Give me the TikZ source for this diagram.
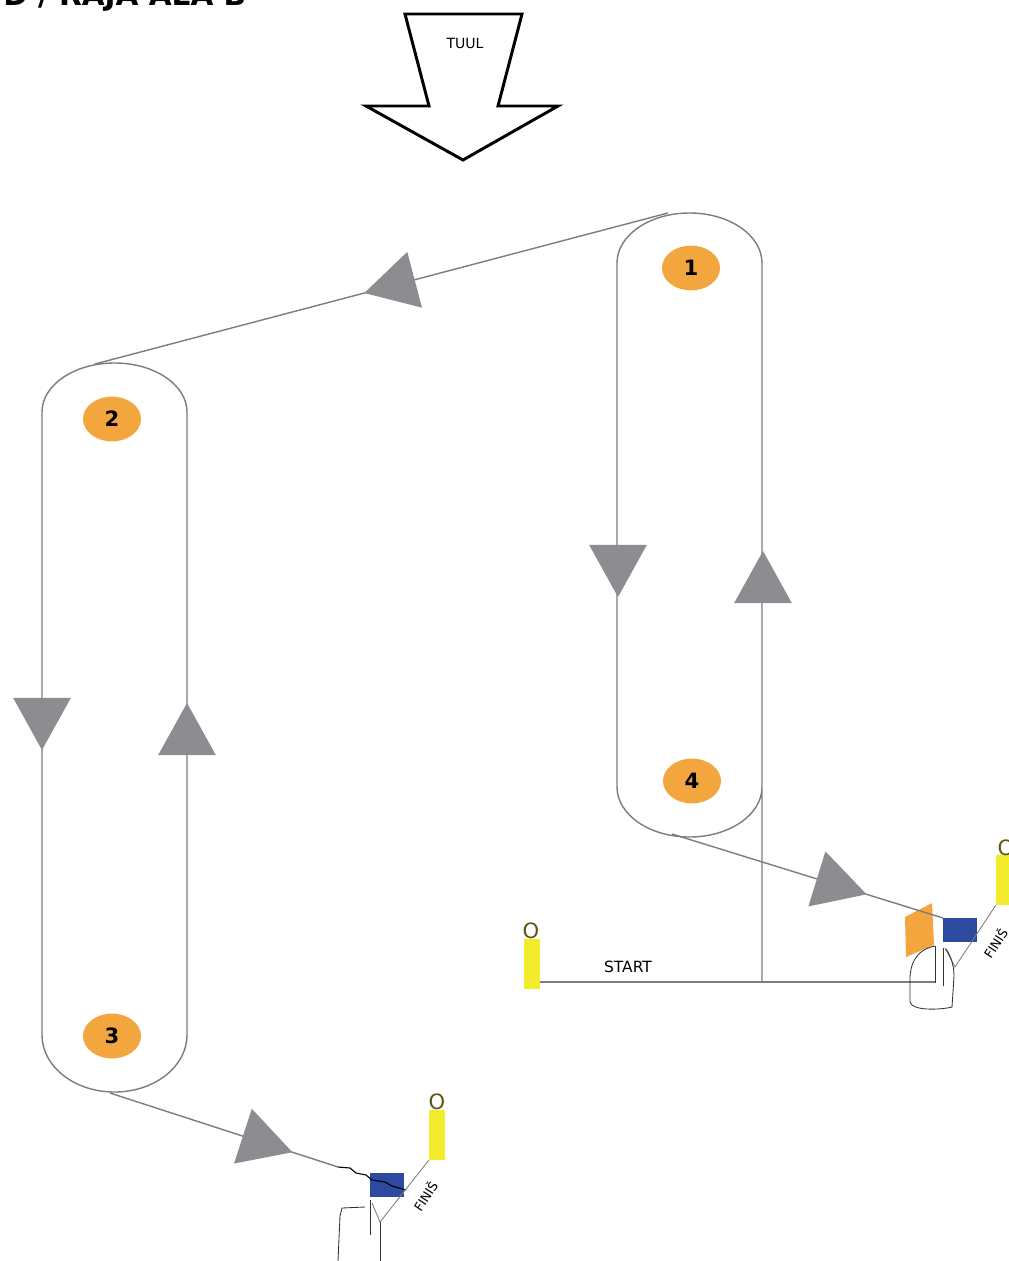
\documentclass[tikz,border=0pt]{standalone}
\usepackage{fontspec}
\setmainfont{DejaVu Sans}
\usetikzlibrary{calc,shapes.geometric}
\definecolor{linegray}{RGB}{125,125,125}
\definecolor{tipgray}{RGB}{140,140,145}
\definecolor{buoyorange}{RGB}{244,166,62}
\definecolor{boatblue}{RGB}{43,74,160}
\definecolor{pinyellow}{RGB}{242,236,44}
\definecolor{pintext}{RGB}{95,85,15}
\tikzset{
  course/.style={draw=linegray,line width=1pt},
  finline/.style={draw=linegray,line width=0.6pt},
  sketch/.style={draw=black!80,line width=0.6pt},
  flowtip/.style={fill=tipgray},
  buoy/.style={ellipse,fill=buoyorange,minimum width=1.45cm,minimum height=1.12cm,inner sep=0pt,font=\bfseries\fontsize{15}{15}\selectfont},
  pin/.style={fill=pinyellow,minimum width=0.4cm,minimum height=1.25cm,inner sep=0pt},
  pinlabel/.style={text=pintext,font=\fontsize{15}{15}\selectfont,inner sep=0pt},
  boat/.style={fill=boatblue,minimum width=0.85cm,minimum height=0.6cm,inner sep=0pt},
  label/.style={font=\fontsize{11}{11}\selectfont,inner sep=0pt}
}
% gray triangle on a leg: #1 point behind, #2 tip
\newcommand\flowarrow[2]{%
  \coordinate (bc) at ($(#2)!1.3cm!(#1)$);
  \fill[flowtip] ($(bc)!0.72cm!90:(#2)$) -- (#2) -- ($(bc)!0.72cm!-90:(#2)$) -- cycle;}

\begin{document}
\begin{tikzpicture}[x=0.025cm,y=-0.025cm]
\useasboundingbox[fill=white] (0,0) rectangle (1008,1261);
\node[anchor=base west,font=\bfseries\fontsize{21}{21}\selectfont,inner sep=0pt] (title) at (3,6) {D / RAJA ALA B};
% wind
\draw[line width=2.1pt,line join=miter] (405,14) -- (522,14) -- (498,106) -- (558,106) -- (463,160) -- (366,106) -- (429,106) -- cycle;
\node[label,font=\fontsize{10}{10}\selectfont] (wind) at (465,43) {TUUL};
% loops
\draw[course] (762,981) -- (762,263) arc[start angle=0,end angle=-180,x radius=72.5,y radius=50] -- (617,787) arc[start angle=180,end angle=0,x radius=72.5,y radius=50];
\draw[course] (187,412) arc[start angle=0,end angle=-180,x radius=72.5,y radius=49] -- (42,1035) arc[start angle=180,end angle=0,x radius=72.5,y radius=57] -- cycle;
\node[buoy] (n1) at (691,268) {1};
\node[buoy] (n2) at (112,419) {2};
\node[buoy] (n3) at (112,1036) {3};
\node[buoy] (n4) at (692,781) {4};
% start and finish marks
\node[pin] (pinS) at (532,964) {};
\node[pinlabel] (oS) at (531,931) {O};
\node[pin,minimum height=1.25cm] (pinR) at (1004,880) {};
\node[pinlabel] (oR) at (1006,848) {O};
\node[pin] (pinB) at (437,1135) {};
\node[pinlabel] (oB) at (437,1102) {O};
\node[boat] (boatR) at (960,930) {};
\node[boat] (boatB) at (386.5,1184.5) {};
\fill[buoyorange] (905,917) -- (932,903) -- (934,945) -- (906,957) -- cycle;
% legs
\coordinate (top1) at (668,213);
\coordinate (top2) at (95,364);
\coordinate (bot1) at (672,834);
\coordinate (bot2) at (110,1093);
\coordinate (endR) at (943,918);
\coordinate (endB) at (338,1167);
\coordinate (startR) at (935,982);
\draw[course] (top1) -- (top2);
\draw[course] (bot1) -- (endR);
\draw[course] (bot2) -- (endB);
\draw[black,line width=0.8pt] (endB) -- (350,1168) -- (356,1173) -- (366,1175) -- (372,1180) -- (385,1182) -- (392,1186) -- (406,1190);
\draw[course] (pinS.east |- startR) -- (startR);
\node[label] (start) at (628,967) {START};
\path (top1) -- (top2) coordinate[pos=0.53] (a1);
\flowarrow{top1}{a1}
\flowarrow{618,500}{618,597}
\flowarrow{763,650}{763,551}
\flowarrow{42,650}{42,750}
\flowarrow{187,800}{187,703}
\path (bot1) -- (endR) coordinate[pos=0.718] (a6);
\flowarrow{bot1}{a6}
\path (bot2) -- (endB) coordinate[pos=0.80] (a7);
\flowarrow{bot2}{a7}
% finish lines
\draw[finline] (945,948) -- (955,967) -- (pinR.south west);
\node[label,font=\fontsize{9}{9}\selectfont,rotate=57] (finR) at (995,943) {FINIŠ};
\draw[finline] (372,1203) -- (380,1222) -- (pinB.south west);
\node[label,font=\fontsize{9}{9}\selectfont,rotate=57] (finB) at (425,1196) {FINIŠ};
% hand drawn boats
\draw[sketch] (935,946) .. controls (915,950) and (909,965) .. (910,985) -- (910,1002) .. controls (912,1011) and (940,1010) .. (952,1007) -- (954,976) .. controls (954,966) and (951,956) .. (946,949);
\draw[sketch] (935,946) -- (935,983);
\draw[sketch] (943,948) -- (943,986);
\draw[sketch] (365,1207) -- (342,1208) -- (340,1216) -- (338,1261);
\draw[sketch] (370,1200) -- (370,1235);
\draw[sketch] (380,1222) -- (380,1261);
\end{tikzpicture}
\end{document}
